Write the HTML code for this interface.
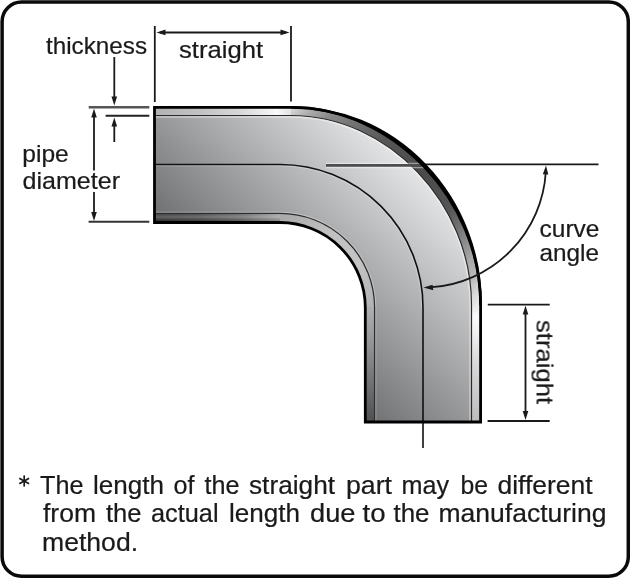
<!DOCTYPE html>
<html><head><meta charset="utf-8">
<style>
html,body{margin:0;padding:0;background:#fff;}
body{width:630px;height:578px;overflow:hidden;}
svg{display:block;} text{will-change:transform;}
text{font-family:"Liberation Sans",sans-serif;fill:#1a1a1a;stroke:#1a1a1a;stroke-width:0.22px;}
</style></head>
<body>
<svg width="630" height="578" viewBox="0 0 630 578">
<defs>
  <linearGradient id="body" gradientUnits="userSpaceOnUse" x1="256.3" y1="345.2" x2="446.6" y2="148.4">
    <stop offset="0" stop-color="#626466"/>
    <stop offset="1" stop-color="#f8f9fb"/>
  </linearGradient>
  <linearGradient id="outerBand" gradientUnits="userSpaceOnUse" x1="200" y1="200" x2="400" y2="400">
    <stop offset="0" stop-color="#d8d8d8"/>
    <stop offset="0.055" stop-color="#acacac"/>
    <stop offset="0.114" stop-color="#8a8a8a"/>
    <stop offset="0.176" stop-color="#777"/>
    <stop offset="0.243" stop-color="#666"/>
    <stop offset="0.31" stop-color="#575757"/>
    <stop offset="0.475" stop-color="#4a4a4a"/>
    <stop offset="0.65" stop-color="#555"/>
    <stop offset="0.76" stop-color="#888"/>
    <stop offset="0.83" stop-color="#aaa"/>
    <stop offset="0.8775" stop-color="#bbb"/>
    <stop offset="0.92" stop-color="#d8d8d8"/>
    <stop offset="0.9525" stop-color="#e8e8e8"/>
  </linearGradient>
  <linearGradient id="topBand" gradientUnits="userSpaceOnUse" x1="155" y1="0" x2="291" y2="0">
    <stop offset="0" stop-color="#b2b2b2"/>
    <stop offset="0.33" stop-color="#c2c2c2"/>
    <stop offset="0.63" stop-color="#d8d8d8"/>
    <stop offset="0.84" stop-color="#f2f2f2"/>
    <stop offset="0.9" stop-color="#f8f8f8"/>
    <stop offset="1" stop-color="#e2e2e2"/>
  </linearGradient>
  <linearGradient id="botBand" gradientUnits="userSpaceOnUse" x1="155" y1="0" x2="280" y2="0">
    <stop offset="0" stop-color="#383838"/>
    <stop offset="0.35" stop-color="#484848"/>
    <stop offset="0.7" stop-color="#6a6a6a"/>
    <stop offset="1" stop-color="#a0a0a0"/>
  </linearGradient>
  <linearGradient id="bandStreak" gradientUnits="userSpaceOnUse" x1="0" y1="213" x2="0" y2="222">
    <stop offset="0" stop-color="#fff" stop-opacity="0"/>
    <stop offset="0.45" stop-color="#fff" stop-opacity="0.22"/>
    <stop offset="0.9" stop-color="#000" stop-opacity="0.15"/>
  </linearGradient>
  <linearGradient id="innerBand" gradientUnits="userSpaceOnUse" x1="280" y1="215" x2="370" y2="305">
    <stop offset="0" stop-color="#a8a8a8"/>
    <stop offset="0.35" stop-color="#c0c0c0"/>
    <stop offset="0.7" stop-color="#c4c4c4"/>
    <stop offset="1" stop-color="#b4b4b4"/>
  </linearGradient>
  <linearGradient id="leftBand" gradientUnits="userSpaceOnUse" x1="0" y1="307" x2="0" y2="422">
    <stop offset="0" stop-color="#b0b0b0"/>
    <stop offset="0.3" stop-color="#969696"/>
    <stop offset="0.65" stop-color="#737373"/>
    <stop offset="1" stop-color="#505050"/>
  </linearGradient>
  <linearGradient id="rightBand" gradientUnits="userSpaceOnUse" x1="0" y1="305" x2="0" y2="422">
    <stop offset="0" stop-color="#e8e8e8"/>
    <stop offset="0.1" stop-color="#fbfbfb"/>
    <stop offset="0.25" stop-color="#f0f0f0"/>
    <stop offset="0.5" stop-color="#d8d8d8"/>
    <stop offset="1" stop-color="#bdbdbd"/>
  </linearGradient>
</defs>

<!-- frame -->
<rect x="2.1" y="2.1" width="626.2" height="574.1" rx="19.5" ry="19.5" fill="#fff" stroke="#0a0a0a" stroke-width="3.5"/>

<!-- pipe body -->
<path d="M154.5,107.3 H291 A189.5,197.5 0 0 1 480.6,305 V422 H365.3 V307.5 A85.3,85 0 0 0 280,222.5 H154.5 Z" fill="url(#body)"/>

<!-- outer band: top straight -->
<path d="M155,107.3 H291 V115.3 H155 Z" fill="url(#topBand)"/>
<!-- outer band: curve -->
<path d="M291,107.3 A189.5,197.5 0 0 1 480.6,305 H471.5 C471.5,203.1 387.9,115.3 291.0,115.3 Z" fill="url(#outerBand)"/>
<!-- outer band: vertical -->
<path d="M471.5,305 H480.6 V422 H471.5 Z" fill="url(#rightBand)"/>

<!-- inner band: bottom straight -->
<path d="M155,213 H280 V222.5 H155 Z" fill="url(#botBand)"/>
<path d="M155,213 H280 V222.5 H155 Z" fill="url(#bandStreak)"/>
<!-- inner band: curve -->
<path d="M280,222.5 A85.3,85 0 0 1 365.3,307.5 H375 A95,94.5 0 0 0 280,213 Z" fill="url(#innerBand)"/>
<!-- inner band: vertical -->
<path d="M365.3,307.5 H375 V422 H365.3 Z" fill="url(#leftBand)"/>

<!-- thickness lines -->
<path d="M156,115.5 H291 C387.9,115.5 471.5,203.2 471.5,305.0 V421" fill="none" stroke="#2a2a2a" stroke-width="1.2"/>
<path d="M156,117 H291 C387.1,117.0 470.0,204.0 470.0,305.0 V421" fill="none" stroke="#fff" stroke-opacity="0.45" stroke-width="1.4"/>
<path d="M156,213.4 H280 A94.6,94.1 0 0 1 374.6,307.5 V421" fill="none" stroke="#2e2e2e" stroke-width="1.3"/>
<path d="M156,212.2 H280 A95.8,95.3 0 0 1 375.8,307.5 V421" fill="none" stroke="#fff" stroke-opacity="0.3" stroke-width="1"/>

<!-- centerline -->
<path d="M155,164.5 H280 A143,143 0 0 1 423,307.5 V448" fill="none" stroke="#111" stroke-width="1.6"/>
<path d="M155,165.9 H280 A141.6,141.6 0 0 1 421.6,307.5" fill="none" stroke="#fff" stroke-opacity="0.25" stroke-width="1"/>

<!-- reference line for angle -->
<path d="M326,163.3 H424" fill="none" stroke="#fff" stroke-opacity="0.45" stroke-width="1.2"/>
<path d="M326,167.6 H424" fill="none" stroke="#fff" stroke-opacity="0.45" stroke-width="1.2"/>
<path d="M326,165.4 H424" fill="none" stroke="#4e4e4e" stroke-width="2.6"/>
<path d="M422,164.4 H598.5" fill="none" stroke="#1a1a1a" stroke-width="1.8"/>

<!-- outline -->
<path d="M154.5,107.3 H291 A189.5,197.5 0 0 1 480.6,305 V422 H365.3 V307.5 A85.3,85 0 0 0 280,222.5 H154.5 Z" fill="none" stroke="#000" stroke-width="2.8"/>
<path d="M291,107.3 C392.4,107.3 480.6,199.2 480.6,305.0" fill="none" stroke="#000" stroke-width="2.6"/>

<!-- dimension: top straight -->
<g stroke="#1a1a1a" stroke-width="1.8" fill="none">
  <path d="M154.8,26 V102"/>
  <path d="M291,26 V101.5"/>
  <path d="M160,32.5 H286"/>
  <!-- thickness -->
  <path d="M88.7,107.2 H149.3" stroke="#555" stroke-width="2.6"/>
  <path d="M105.6,115.8 H149.3" stroke="#222" stroke-width="1.9"/>
  <path d="M114.3,57 V98"/>
  <path d="M114.3,124 V142"/>
  <!-- diameter -->
  <path d="M94,114 V170.5"/>
  <path d="M94,192 V215"/>
  <path d="M88.6,221.7 H149.3" stroke="#333" stroke-width="2.1"/>
  <!-- right straight -->
  <path d="M487.8,304.6 H549.7"/>
  <path d="M487.6,421 H549.7"/>
  <path d="M525.5,311 V415"/>
  <!-- curve angle arc -->
  <path d="M545.8,172 A123,123 0 0 1 432,287.2"/>
</g>
<g fill="#1a1a1a">
  <path d="M156.5,32.4 L165.5,29.6 L165.5,35.2 Z"/>
  <path d="M289.5,32.4 L280.5,35.2 L280.5,29.6 Z"/>
  <path d="M114.3,105.5 L111.5,96.5 L117.1,96.5 Z"/>
  <path d="M114.3,117.5 L117.1,126.5 L111.5,126.5 Z"/>
  <path d="M94.0,108.5 L96.8,117.5 L91.2,117.5 Z"/>
  <path d="M94.0,221.0 L91.2,212.0 L96.8,212.0 Z"/>
  <path d="M525.5,305.5 L528.3,314.5 L522.7,314.5 Z"/>
  <path d="M525.5,420.0 L522.7,411.0 L528.3,411.0 Z"/>
  <path d="M546.0,165.5 L548.3,174.6 L542.8,174.3 Z"/>
  <path d="M423.5,287.6 L432.6,284.7 L433.2,290.3 Z"/>
</g>

<!-- labels -->
<text x="46" y="54.4" font-size="24" textLength="101" lengthAdjust="spacingAndGlyphs">thickness</text>
<text x="179" y="58.4" font-size="24" textLength="84" lengthAdjust="spacingAndGlyphs">straight</text>
<text x="22.3" y="161.8" font-size="24" textLength="46.5" lengthAdjust="spacingAndGlyphs">pipe</text>
<text x="22.5" y="188.5" font-size="24" textLength="97.5" lengthAdjust="spacingAndGlyphs">diameter</text>
<text x="539.5" y="237.3" font-size="24" textLength="60" lengthAdjust="spacingAndGlyphs">curve</text>
<text x="539.5" y="261.4" font-size="24" textLength="59.5" lengthAdjust="spacingAndGlyphs">angle</text>
<text transform="translate(536.5,320) rotate(90)" x="0" y="0" font-size="24" textLength="84" lengthAdjust="spacingAndGlyphs">straight</text>

<!-- note -->
<g stroke="#1a1a1a" stroke-width="1.7" stroke-linecap="butt"><path d="M24.2,475.4 V486.6"/><path d="M19.3,478.2 L29.1,483.8"/><path d="M19.3,483.8 L29.1,478.2"/></g>
<text x="40.0" y="493.6" font-size="25" textLength="43.52" lengthAdjust="spacingAndGlyphs">The</text>
<text x="93.0" y="493.6" font-size="25" textLength="71.01" lengthAdjust="spacingAndGlyphs">length</text>
<text x="173.5" y="493.6" font-size="25" textLength="21.01" lengthAdjust="spacingAndGlyphs">of</text>
<text x="204.5" y="493.6" font-size="25" textLength="35.01" lengthAdjust="spacingAndGlyphs">the</text>
<text x="249.0" y="493.6" font-size="25" textLength="86.00" lengthAdjust="spacingAndGlyphs">straight</text>
<text x="346.0" y="493.6" font-size="25" textLength="46.00" lengthAdjust="spacingAndGlyphs">part</text>
<text x="401.5" y="493.6" font-size="25" textLength="47.50" lengthAdjust="spacingAndGlyphs">may</text>
<text x="460.5" y="493.6" font-size="25" textLength="27.55" lengthAdjust="spacingAndGlyphs">be</text>
<text x="497.5" y="493.6" font-size="25" textLength="95.00" lengthAdjust="spacingAndGlyphs">different</text>
<text x="43.0" y="522" font-size="25" textLength="53.01" lengthAdjust="spacingAndGlyphs">from</text>
<text x="106.0" y="522" font-size="25" textLength="35.49" lengthAdjust="spacingAndGlyphs">the</text>
<text x="151.0" y="522" font-size="25" textLength="67.52" lengthAdjust="spacingAndGlyphs">actual</text>
<text x="229.0" y="522" font-size="25" textLength="71.03" lengthAdjust="spacingAndGlyphs">length</text>
<text x="310.0" y="522" font-size="25" textLength="45.49" lengthAdjust="spacingAndGlyphs">due</text>
<text x="362.5" y="522" font-size="25" textLength="23.08" lengthAdjust="spacingAndGlyphs">to</text>
<text x="393.5" y="522" font-size="25" textLength="36.00" lengthAdjust="spacingAndGlyphs">the</text>
<text x="438.5" y="522" font-size="25" textLength="168.02" lengthAdjust="spacingAndGlyphs">manufacturing</text>
<text x="42.0" y="551.4" font-size="25" textLength="96.07" lengthAdjust="spacingAndGlyphs">method.</text>
</svg>
</body></html>
